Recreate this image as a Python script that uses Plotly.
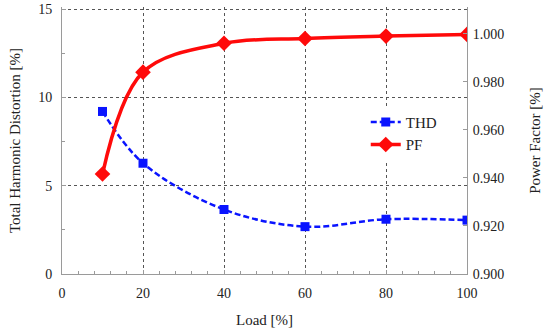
import plotly.graph_objects as go

load = [10, 20, 40, 60, 80, 100]
thd = [9.2, 6.27, 3.65, 2.68, 3.1, 3.05]
pf = [0.9416, 0.9840, 0.9960, 0.9980, 0.9990, 0.9997]
x_ticks = [0, 20, 40, 60, 80, 100]
y_ticks = [0, 5, 10, 15]
y2_ticks = [0.90, 0.92, 0.94, 0.96, 0.98, 1.00]

FONT = "Liberation Serif"
AXC = "#9a9a9a"
GRIDC = "#555555"

fig = go.Figure()
fig.add_trace(go.Scatter(
    x=load, y=thd, name="THD", mode="lines+markers", legendgroup="a",
    line=dict(color="#0a14ff", width=2.5, dash="6px,3px", shape="spline", smoothing=1.0),
    marker=dict(symbol="square", size=9, color="#0a14ff"),
))
fig.add_trace(go.Scatter(
    x=load, y=pf, name="PF", mode="lines+markers", yaxis="y2", legendgroup="b",
    line=dict(color="#ff0a0a", width=3.5, shape="spline", smoothing=1.0),
    marker=dict(symbol="diamond", size=12, color="#ff0a0a"),
))

fig.update_layout(
    width=550, height=334,
    margin=dict(l=62, r=83, t=7, b=60),
    paper_bgcolor="white", plot_bgcolor="white",
    font=dict(family=FONT, size=14, color="#222222"),
    showlegend=True,
    legend=dict(x=0.75, y=0.63, xanchor="left", yanchor="top",
                bgcolor="white", borderwidth=0, tracegroupgap=0,
                font=dict(family=FONT, size=15, color="#222222")),
    xaxis=dict(
        range=[0, 100], tickvals=x_ticks, showline=True, linecolor=AXC, linewidth=1,
        ticks="inside", ticklen=4, tickcolor=AXC,
        minor=dict(dtick=4, ticks="inside", ticklen=3, tickcolor=AXC, showgrid=False),
        showgrid=True, gridcolor=GRIDC, griddash="dot", gridwidth=1, zeroline=False,
        tickfont=dict(family=FONT, size=14), ticklabelstandoff=6,
        title=dict(text="Load [%]", font=dict(family=FONT, size=15), standoff=14),
        automargin=False,
    ),
    yaxis=dict(
        range=[0, 15.113], tickvals=y_ticks, showline=True, linecolor=AXC, linewidth=1,
        ticks="inside", ticklen=4, tickcolor=AXC,
        minor=dict(dtick=2.5, ticks="inside", ticklen=3, tickcolor=AXC, showgrid=False),
        showgrid=True, gridcolor=GRIDC, griddash="dot", gridwidth=1, zeroline=False,
        tickfont=dict(family=FONT, size=14), ticklabelstandoff=6,
        title=dict(text="Total Harmonic Distortion [%]", font=dict(family=FONT, size=15), standoff=13),
        automargin=False,
    ),
    yaxis2=dict(
        range=[0.9, 1.0111], tickvals=y2_ticks, tickformat=".3f", overlaying="y", side="right",
        showline=True, linecolor=AXC, linewidth=1,
        ticks="inside", ticklen=4, tickcolor=AXC, showgrid=False, zeroline=False,
        tickfont=dict(family=FONT, size=14), ticklabelstandoff=2,
        title=dict(text="Power Factor [%]", font=dict(family=FONT, size=15), standoff=26),
        automargin=False,
    ),
)

# remove the page's default 8px body margin so the figure sits at the window's origin
fig.write_html("out.html", config={"displayModeBar": False},
               post_script="document.body.style.margin='0px';")
